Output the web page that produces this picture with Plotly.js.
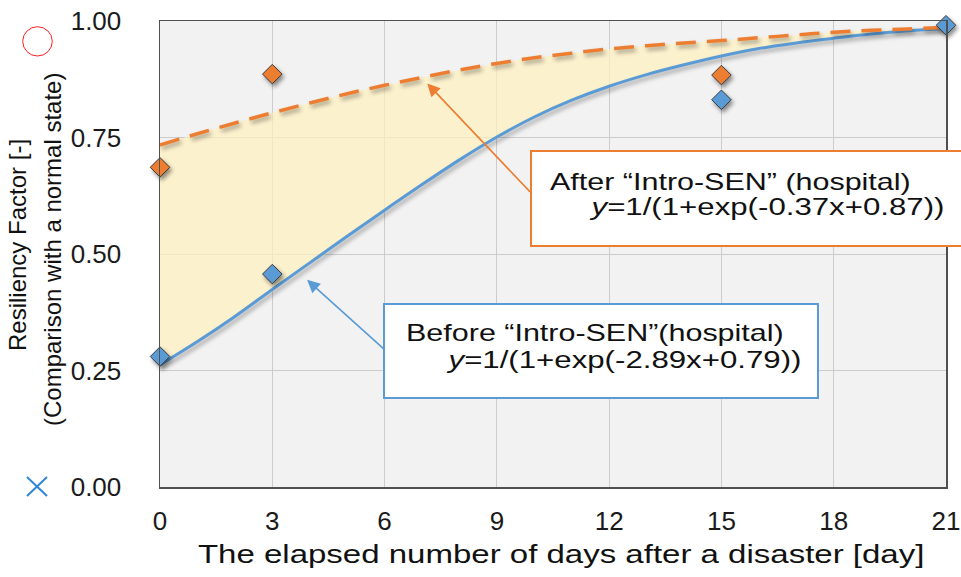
<!DOCTYPE html>
<html>
<head>
<meta charset="utf-8">
<script src="https://cdn.plot.ly/plotly-3.0.1.min.js"></script>
<style>
  html, body { margin: 0; padding: 0; background: #ffffff; }
  #chart { width: 961px; height: 577px; }
  .scatterlayer .trace .js-line { filter: drop-shadow(2px 3px 2px rgba(0,0,0,0.35)); }
  .scatterlayer .trace .points path { filter: drop-shadow(2px 3px 2px rgba(0,0,0,0.45)); }
  g.annotation[data-index="2"] text, g.annotation[data-index="4"] text {
    transform-box: fill-box; transform-origin: left center; transform: scaleX(1.27);
  }
  g.annotation[data-index="3"] text, g.annotation[data-index="5"] text {
    transform-box: fill-box; transform-origin: left center; transform: scaleX(1.30);
  }
  g.annotation[data-index="6"] text {
    transform-box: fill-box; transform-origin: center center; transform: scaleX(1.27);
  }
</style>
</head>
<body>
<div id="chart"></div>
<script>
// ---- data ----
const curveDays = [0,1,2,3,4,5,6,7,8,9,10,11,12,13,14,15,16,17,18,19,20,21];
const beforeCurve = [0.262,0.312,0.366,0.424,0.481,0.538,0.594,0.649,0.702,0.751,0.794,0.830,0.860,0.885,0.906,0.925,0.941,0.953,0.963,0.972,0.979,0.984];
const afterCurve  = [0.734,0.758,0.781,0.803,0.824,0.844,0.862,0.879,0.895,0.909,0.921,0.931,0.940,0.947,0.953,0.958,0.964,0.970,0.976,0.980,0.983,0.986];
const afterObsDays = [0,3,15];
const afterObs = [0.686,0.886,0.884];
const beforeObsDays = [0,3,15,21];
const beforeObs = [0.280,0.457,0.831,0.991];
const xTicks = [0,3,6,9,12,15,18,21];
const yTicks = [0,0.25,0.5,0.75,1.0];
const yTickText = ['0.00','0.25','0.50','0.75','1.00'];
const afterLabel = ['After \u201cIntro-SEN\u201d (hospital)', '<i>y</i>=1/(1+exp(-0.37x+0.87))'];
const beforeLabel = ['Before \u201cIntro-SEN\u201d(hospital)', '<i>y</i>=1/(1+exp(-2.89x+0.79))'];
const xTitle = 'The elapsed number of days after a disaster [day]';
const yTitle = ['Resiliency Factor [-]', '(Comparison with a normal state)'];

const BLUE = '#5B9BD5', ORANGE = '#ED7D31';
const FONT = 'Liberation Sans, Arial, sans-serif';

const traces = [
  { x: curveDays, y: beforeCurve, mode: 'lines', line: { color: BLUE, width: 3, shape: 'spline' }, hoverinfo: 'skip' },
  { x: curveDays, y: afterCurve, mode: 'lines', fill: 'tonexty', fillcolor: 'rgba(255,240,190,0.72)',
    line: { color: ORANGE, width: 3.5, dash: '20px,11px', shape: 'spline' }, hoverinfo: 'skip' },
  { x: afterObsDays, y: afterObs, mode: 'markers', cliponaxis: false,
    marker: { symbol: 'diamond', size: 15, color: ORANGE, line: { color: '#3a3a3a', width: 1 } } },
  { x: beforeObsDays, y: beforeObs, mode: 'markers', cliponaxis: false,
    marker: { symbol: 'diamond', size: 15, color: BLUE, line: { color: '#3a3a3a', width: 1 } } }
];

const L = 160, R = 946, T = 21, B = 487;
const px = v => (v - L) / (R - L);
const py = v => (B - v) / (B - T);

const layout = {
  width: 961, height: 577,
  margin: { l: L, r: 961 - R, t: T, b: 577 - B },
  paper_bgcolor: '#ffffff', plot_bgcolor: '#f2f2f2',
  showlegend: false,
  font: { family: FONT, color: '#1a1a1a' },
  xaxis: {
    range: [0, 21], tickvals: xTicks, ticktext: xTicks.map(String),
    showgrid: true, gridcolor: '#cccccc', gridwidth: 1, zeroline: false,
    showline: true, mirror: true, linecolor: '#505050', linewidth: 1.5,
    ticks: '', ticklabelstandoff: 10, tickfont: { size: 26, family: FONT, color: '#1a1a1a' }
  },
  yaxis: {
    range: [0, 1], tickvals: yTicks, ticktext: yTickText,
    showgrid: true, gridcolor: '#cccccc', gridwidth: 1, zeroline: false,
    showline: true, mirror: true, linecolor: '#505050', linewidth: 1.5,
    ticks: '', ticklabelstandoff: 32, tickfont: { size: 26, family: FONT, color: '#1a1a1a' }
  },
  shapes: [
    { type: 'rect', xref: 'paper', yref: 'paper', x0: px(531), x1: px(985), y0: py(246), y1: py(151),
      fillcolor: '#ffffff', line: { color: ORANGE, width: 2 }, layer: 'above' },
    { type: 'rect', xref: 'paper', yref: 'paper', x0: px(384), x1: px(818), y0: py(398), y1: py(304),
      fillcolor: '#ffffff', line: { color: BLUE, width: 2 }, layer: 'above' },
    { type: 'circle', xref: 'paper', yref: 'paper', x0: px(22.7), x1: px(52.3), y0: py(56), y1: py(26.7),
      line: { color: '#ff2020', width: 1 }, layer: 'above' },
    { type: 'line', xref: 'paper', yref: 'paper', x0: px(27), x1: px(47), y0: py(477), y1: py(496),
      line: { color: '#2f86d6', width: 2 }, layer: 'above' },
    { type: 'line', xref: 'paper', yref: 'paper', x0: px(27), x1: px(47), y0: py(496), y1: py(477),
      line: { color: '#2f86d6', width: 2 }, layer: 'above' }
  ],
  annotations: [
    { x: 7.14, y: 0.866, ax: 9.925, ay: 0.630, axref: 'x', ayref: 'y', xref: 'x', yref: 'y',
      text: '', showarrow: true, arrowcolor: ORANGE, arrowwidth: 1.6, arrowhead: 2, arrowsize: 1.6, standoff: 0 },
    { x: 3.93, y: 0.4445, ax: 6.01, ay: 0.294, axref: 'x', ayref: 'y', xref: 'x', yref: 'y',
      text: '', showarrow: true, arrowcolor: BLUE, arrowwidth: 1.6, arrowhead: 2, arrowsize: 1.6, standoff: 0 },
    { xref: 'paper', yref: 'paper', x: px(549), y: py(181), xanchor: 'left', yanchor: 'middle', showarrow: false,
      text: afterLabel[0], font: { size: 24, family: FONT, color: '#111' }, borderpad: 0 },
    { xref: 'paper', yref: 'paper', x: px(588), y: py(207), xanchor: 'left', yanchor: 'middle', showarrow: false,
      text: afterLabel[1], font: { size: 24, family: FONT, color: '#111' }, borderpad: 0 },
    { xref: 'paper', yref: 'paper', x: px(405), y: py(332), xanchor: 'left', yanchor: 'middle', showarrow: false,
      text: beforeLabel[0], font: { size: 24, family: FONT, color: '#111' }, borderpad: 0 },
    { xref: 'paper', yref: 'paper', x: px(445), y: py(359), xanchor: 'left', yanchor: 'middle', showarrow: false,
      text: beforeLabel[1], font: { size: 24, family: FONT, color: '#111' }, borderpad: 0 },
    { xref: 'paper', yref: 'paper', x: px(561), y: py(554), xanchor: 'center', yanchor: 'middle', showarrow: false,
      text: xTitle, font: { size: 26, family: FONT, color: '#111' }, borderpad: 0 },
    { xref: 'paper', yref: 'paper', x: px(17), y: py(245), xanchor: 'center', yanchor: 'middle', showarrow: false,
      textangle: -90, text: yTitle[0], font: { size: 24, family: FONT, color: '#111' }, borderpad: 0 },
    { xref: 'paper', yref: 'paper', x: px(52), y: py(250), xanchor: 'center', yanchor: 'middle', showarrow: false,
      textangle: -90, text: yTitle[1], font: { size: 24, family: FONT, color: '#111' }, borderpad: 0 }
  ]
};

Plotly.newPlot('chart', traces, layout, { displayModeBar: false, staticPlot: true });
</script>
</body>
</html>
